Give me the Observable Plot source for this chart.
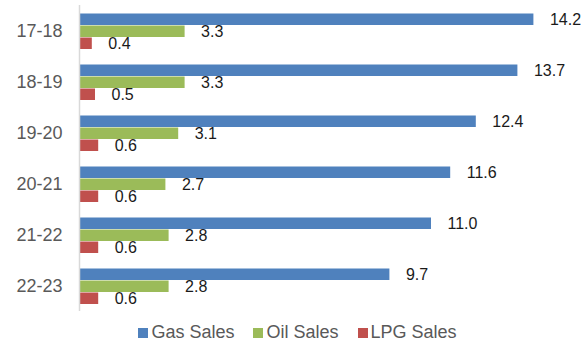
<!DOCTYPE html>
<html>
<head>
<meta charset="utf-8">
<script src="https://cdn.jsdelivr.net/npm/d3@7"></script>
<script src="https://cdn.jsdelivr.net/npm/@observablehq/plot@0.6"></script>
<style>
  html, body { margin: 0; padding: 0; background: #fff; }
  body { width: 587px; height: 345px; overflow: hidden; font-family: "Liberation Sans", Arial, sans-serif; }
  #legend { display: flex; justify-content: center; gap: 19px; margin-top: 8px; padding-left: 8px; font-size: 18px; line-height: 18px; color: #595959; }
  #legend .item { display: flex; align-items: baseline; }
  #legend .sw { display: inline-block; width: 10px; height: 10px; margin-right: 3px; }
</style>
</head>
<body>
<div id="chart"></div>
<div id="legend"></div>
<script>
const categories = ["17-18", "18-19", "19-20", "20-21", "21-22", "22-23"];
const seriesNames = ["Gas Sales", "Oil Sales", "LPG Sales"];
const seriesColors = ["#4F81BD", "#9BBB59", "#C0504D"];
const gasSales = [14.2, 13.7, 12.4, 11.6, 11.0, 9.7];
const oilSales = [3.3, 3.3, 3.1, 2.7, 2.8, 2.8];
const lpgSales = [0.4, 0.5, 0.6, 0.6, 0.6, 0.6];

const seriesValues = [gasSales, oilSales, lpgSales];
const data = [];
categories.forEach((c, i) => {
  seriesNames.forEach((s, j) => {
    data.push({cat: c, series: s, value: seriesValues[j][i]});
  });
});

const chart = Plot.plot({
  width: 587,
  height: 315,
  marginLeft: 79,
  marginRight: 0,
  marginTop: 5,
  marginBottom: 4,
  style: {fontFamily: "'Liberation Sans', Arial, sans-serif", background: "#fff"},
  x: {domain: [0, 15.875], axis: null},
  y: {domain: seriesNames, padding: 0, paddingOuter: 0.5, axis: null},
  fy: {domain: categories, padding: 0, label: null},
  color: {domain: seriesNames, range: seriesColors},
  marks: [
    Plot.axisFy({anchor: "left", tickSize: 0, tickPadding: 17, fontSize: 18, fill: "#595959", label: null}),
    Plot.barX(data, {x: "value", y: "series", fy: "cat", fill: "series", insetTop: 0.5, insetBottom: 0}),
    Plot.text(data, {x: "value", y: "series", fy: "cat", text: d => d.value.toFixed(1), textAnchor: "start", dx: 16, fontSize: 16, fill: "#1a1a1a"}),
    Plot.ruleX([0], {stroke: "#d9d9d9", strokeWidth: 1.5})
  ]
});
document.getElementById("chart").appendChild(chart);

const legend = document.getElementById("legend");
seriesNames.forEach((s, j) => {
  const item = document.createElement("span");
  item.className = "item";
  const sw = document.createElement("span");
  sw.className = "sw";
  sw.style.background = seriesColors[j];
  item.appendChild(sw);
  item.appendChild(document.createTextNode(s));
  legend.appendChild(item);
});
</script>
</body>
</html>
